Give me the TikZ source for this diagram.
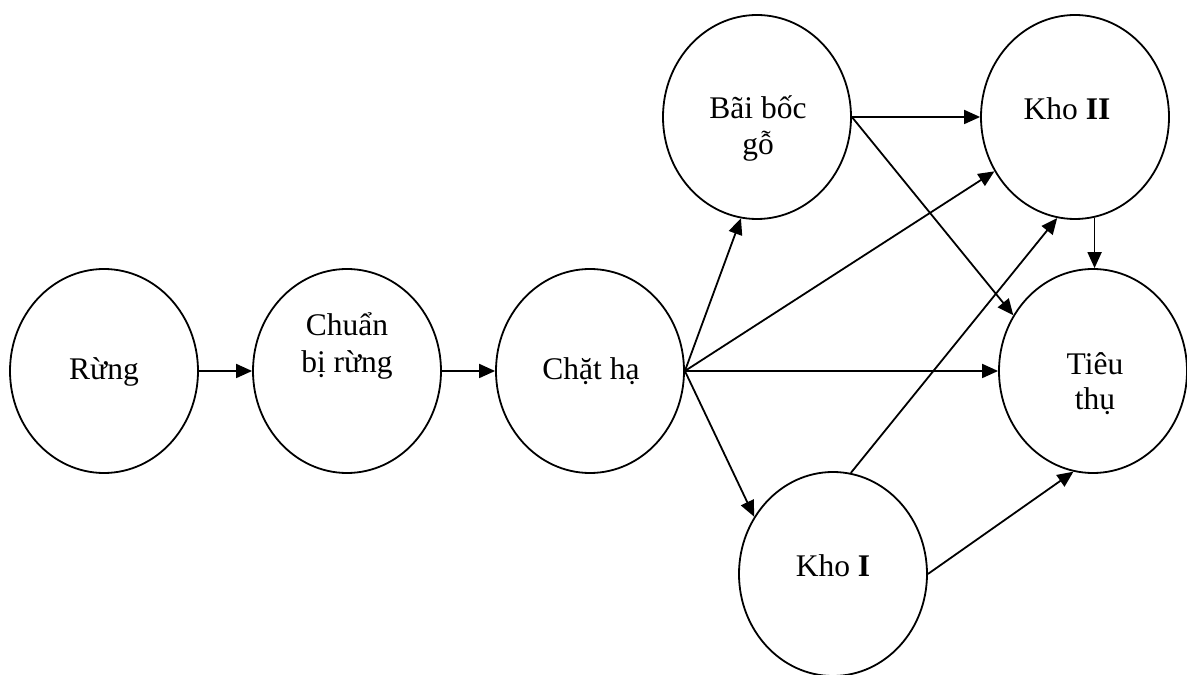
\documentclass[tikz,border=0pt]{standalone}
\usepackage{fontspec}
\setmainfont{Liberation Serif}
\usetikzlibrary{shapes.geometric,arrows.meta,calc}
\begin{document}
\begin{tikzpicture}[x=1pt,y=1pt,
  circ/.style={draw,ellipse,line width=1.8pt,minimum width=188pt,minimum height=204pt,inner sep=0pt},
  lbl/.style={anchor=base,inner sep=0pt,font=\fontsize{31.5}{37}\selectfont},
  arr/.style={line width=1.8pt,-{Triangle[length=16pt,width=14pt]}},
  ln/.style={line width=1.8pt}]
\useasboundingbox (0,0) rectangle (1187,675);
% ellipses
\node[circ] (R)  at (104,304) {};
\node[circ] (C)  at (347,304) {};
\node[circ] (H)  at (590,304) {};
\node[circ] (B)  at (757,558) {};
\node[circ] (K2) at (1075,558) {};
\node[circ] (T)  at (1093,304) {};
\node[circ] (K1) at (833,101) {};
% labels
\node[lbl] (tR)  at (104,295) {Rừng};
\node[lbl] (tC1) at (347,339) {Chuẩn};
\node[lbl] (tC2) at (347,302) {bị rừng};
\node[lbl] (tH)  at (591,295) {Chặt hạ};
\node[lbl] (tB1) at (758,556) {Bãi bốc};
\node[lbl] (tB2) at (758,520) {gỗ};
\node[lbl] (tK2) at (1067,555) {Kho \textbf{II}};
\node[lbl] (tT1) at (1095,300) {Tiêu};
\node[lbl] (tT2) at (1095,265) {thụ};
\node[lbl] (tK1) at (833,98) {Kho \textbf{I}};
% connectors
\draw[arr] (R.east) -- (C.west);
\draw[arr] (C.east) -- (H.west);
\draw[arr] (H.east) -- (B.261);
\draw[arr] (H.east) -- (K2.214);
\draw[arr] (H.east) -- (T.west);
\draw[arr] (H.east) -- (K1.144);
\draw[arr] (B.east) -- (K2.west);
\draw[arr] (B.east) -- (T.145);
\draw[arr] (K1.80) -- (K2.260);
\draw[arr] (K1.east) -- (T.259);
\coordinate (dn) at (K2.281);
\draw[arr] (dn) -- (dn |- T.north);
\end{tikzpicture}
\end{document}
